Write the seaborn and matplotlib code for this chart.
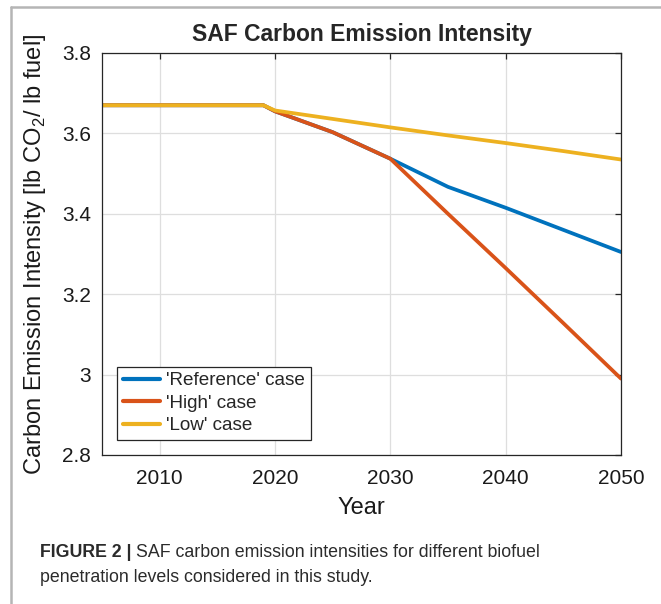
import numpy as np
import pandas as pd
import matplotlib
matplotlib.use('Agg')
import matplotlib.pyplot as plt
from matplotlib.lines import Line2D
import seaborn as sns

# values
years = [2005, 2010, 2015, 2019, 2020, 2025, 2030, 2035, 2040, 2045, 2050]
reference = [3.67, 3.67, 3.67, 3.67, 3.655, 3.603, 3.537, 3.467, 3.415, 3.36, 3.305]
high = [3.67, 3.67, 3.67, 3.67, 3.655, 3.603, 3.537, 3.40, 3.265, 3.128, 2.99]
low = [3.67, 3.67, 3.67, 3.67, 3.657, 3.636, 3.615, 3.595, 3.576, 3.556, 3.535]
case_names = ["'Reference' case", "'High' case", "'Low' case"]
x_ticks = [2010, 2020, 2030, 2040, 2050]
y_ticks = [2.8, 3.0, 3.2, 3.4, 3.6, 3.8]
y_tick_labels = ['2.8', '3', '3.2', '3.4', '3.6', '3.8']

df = pd.DataFrame({
    'Year': years * 3,
    'value': reference + high + low,
    'case': [case_names[0]] * len(years) + [case_names[1]] * len(years) + [case_names[2]] * len(years),
})

sns.set_style('white')
plt.rcParams['font.family'] = ['Liberation Sans', 'DejaVu Sans']
plt.rcParams['mathtext.fontset'] = 'custom'
plt.rcParams['mathtext.rm'] = 'Liberation Sans'

fig = plt.figure(figsize=(6.61, 6.04), dpi=100)
ax = fig.add_axes([102 / 661, 1 - 455 / 604, 519 / 661, 402 / 604])

palette = ['#0072BD', '#D95319', '#EDB120']
sns.lineplot(data=df, x='Year', y='value', hue='case', hue_order=case_names,
             palette=palette, linewidth=2.7, ax=ax, legend=True, sort=False)

ax.set_xlim(2005, 2050)
ax.set_ylim(2.8, 3.8)
ax.set_xticks(x_ticks)
ax.set_yticks(y_ticks)
ax.set_yticklabels(y_tick_labels)
ax.grid(True, color='#dedede', linewidth=0.9)
ax.set_axisbelow(True)
ax.tick_params(direction='in', length=4, width=0.9, color='#262626',
               top=True, right=True, labelsize=15, labelcolor='#1a1a1a')
ax.tick_params(axis='x', pad=10)
ax.tick_params(axis='y', pad=8)
for s in ax.spines.values():
    s.set_color('#262626')
    s.set_linewidth(0.9)

ax.set_xlabel('Year', fontsize=17, labelpad=6.5, color='#1a1a1a')
ax.set_ylabel('Carbon Emission Intensity [lb CO$_2$/ lb fuel]', fontsize=17, labelpad=10, color='#1a1a1a')
ax.set_title('SAF Carbon Emission Intensity', fontsize=16.5, fontweight='bold', pad=9)

leg = ax.legend(loc='lower left', bbox_to_anchor=(0.029, 0.037), borderaxespad=0,
                fontsize=13.6, handlelength=2.0, handletextpad=0.3, labelspacing=0.28,
                borderpad=0.3, fancybox=False, framealpha=1)
leg.get_frame().set_edgecolor('#262626')
leg.get_frame().set_linewidth(0.9)
for line in leg.get_lines():
    line.set_linewidth(3)

# page border like the journal layout
fig.add_artist(Line2D([11 / 661, 1], [1 - 7 / 604, 1 - 7 / 604], color='#b5b5b5', linewidth=1.8))
fig.add_artist(Line2D([11 / 661, 11 / 661], [0, 1 - 7 / 604], color='#b5b5b5', linewidth=1.8))

# caption
cap_col = '#2b2b2b'
t = fig.text(40 / 661, 1 - 557 / 604, 'FIGURE 2 |', fontsize=12.8, fontweight='bold', color=cap_col)
fig.canvas.draw()
bb = t.get_window_extent()
fig.text(bb.x1 / fig.bbox.width + 4 / 661, 1 - 557 / 604,
         'SAF carbon emission intensities for different biofuel',
         fontsize=12.8, color=cap_col)
fig.text(40 / 661, 1 - 582 / 604, 'penetration levels considered in this study.',
         fontsize=12.8, color=cap_col)

fig.savefig('out.png', dpi=100)
